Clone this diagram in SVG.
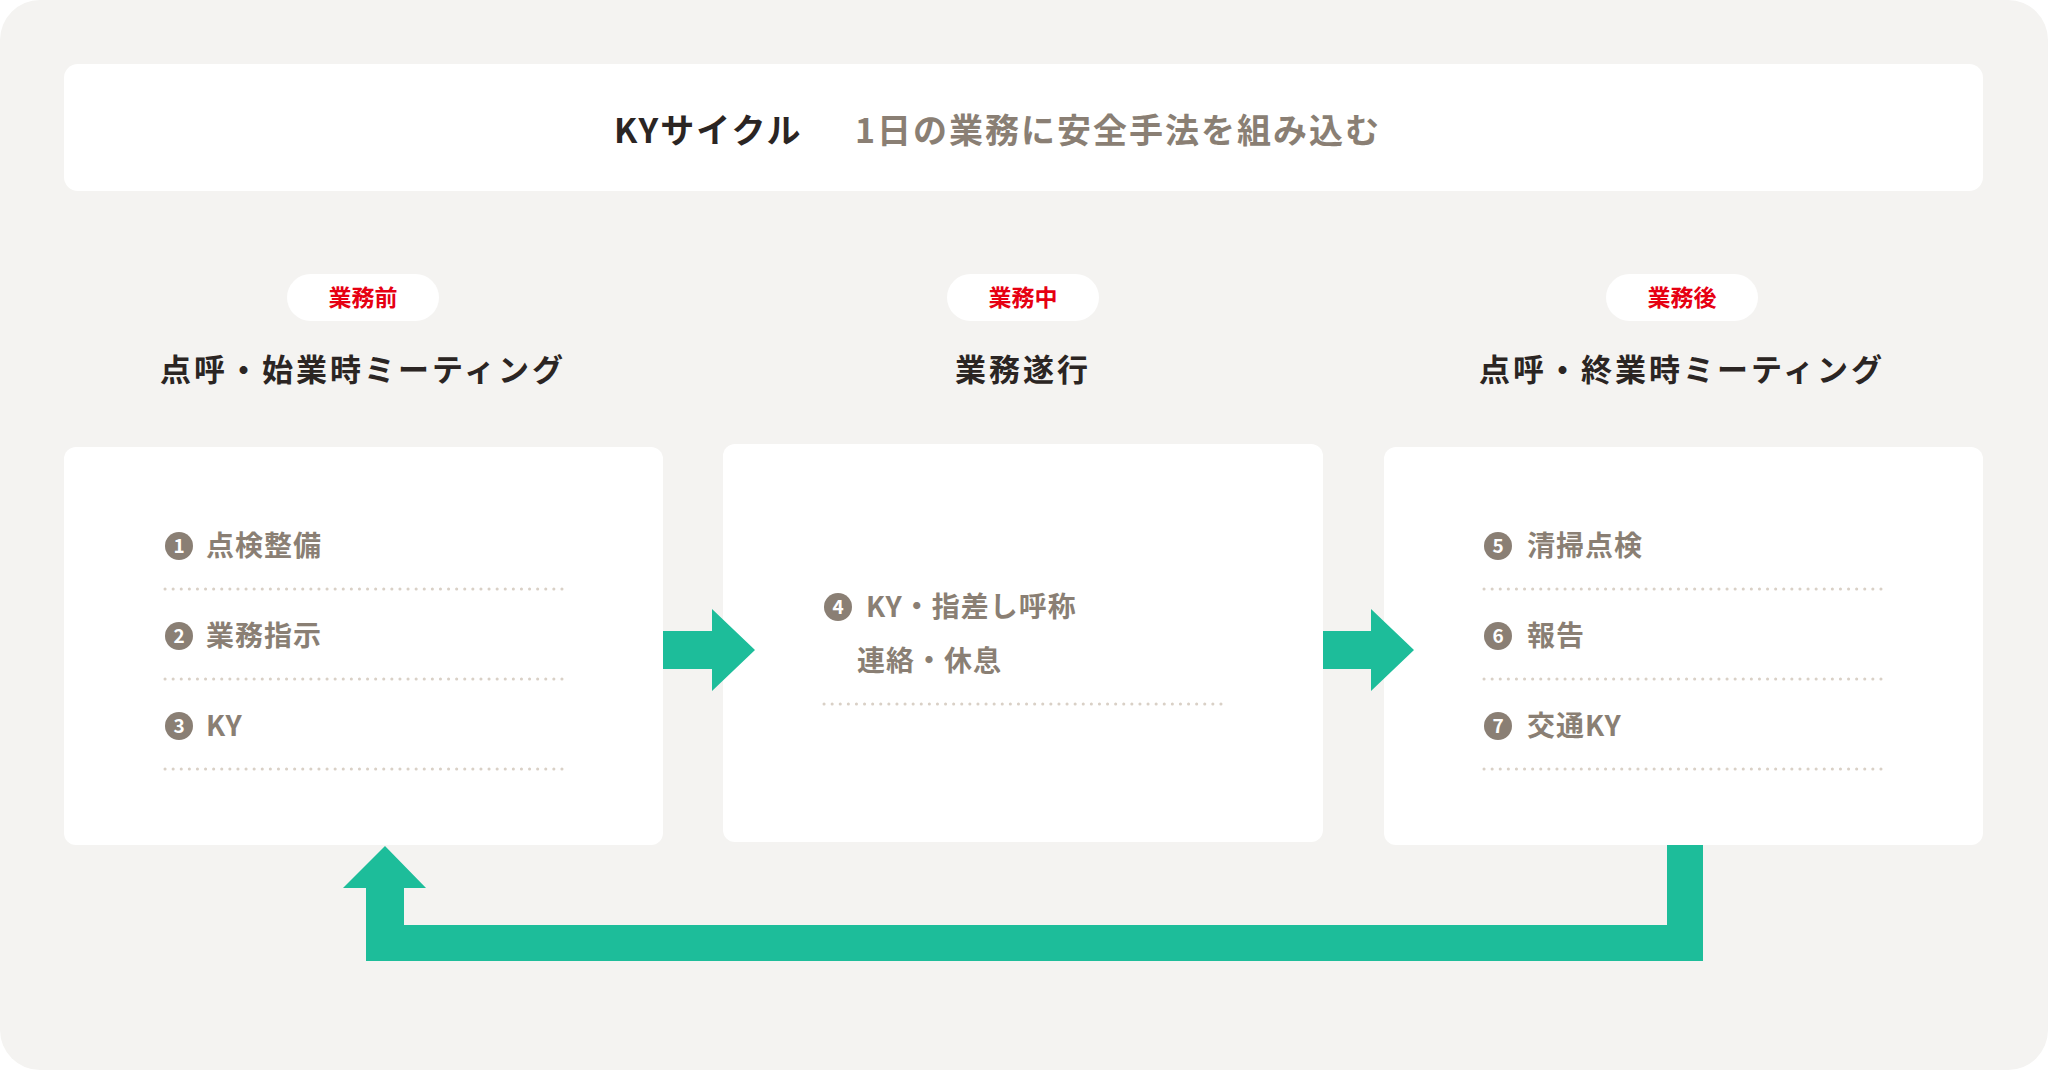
<svg xmlns="http://www.w3.org/2000/svg" width="2048" height="1070" viewBox="0 0 2048 1070">
<style>
text{font-family:"Noto Sans CJK JP","Noto Sans",sans-serif;font-weight:700}
.box{fill:#fff}
.pill{fill:#fff}
.pt{fill:#e60012;font-size:23px;text-anchor:middle}
.hd{fill:#2b2523;font-size:31px;text-anchor:middle;letter-spacing:3px}
.it{fill:#8a7f74;font-size:28px;letter-spacing:1px}
.nc{fill:#8a7f74}
.nt{fill:#fff;font-size:19px;text-anchor:middle}
.dot{stroke:#d9d0c6;stroke-width:3;stroke-dasharray:0.1 8;stroke-linecap:round}
.ar{fill:#1dbd9a}
</style>
<rect x="0" y="0" width="2048" height="1070" rx="40" fill="#f4f3f1"/>
<g id="header">
<rect x="64" y="64" width="1919" height="127" rx="14" class="box"/>
<text x="614" y="143" font-size="34" fill="#2b2523" letter-spacing="2">KYサイクル</text>
<text x="855" y="143" font-size="34" fill="#8a7f74" letter-spacing="2">1日の業務に安全手法を組み込む</text>
</g>
<g id="before">
<rect x="287" y="274" width="152" height="47" rx="23.5" class="pill"/>
<text x="363" y="306" class="pt">業務前</text>
<text x="363" y="381" class="hd">点呼・始業時ミーティング</text>
<rect x="64" y="447" width="599" height="398" rx="12" class="box"/>
<circle cx="179" cy="546" r="14" class="nc"/><text x="179" y="553" class="nt">1</text>
<text x="206" y="556" class="it">点検整備</text>
<line x1="165" y1="589" x2="564" y2="589" class="dot"/>
<circle cx="179" cy="636" r="14" class="nc"/><text x="179" y="643" class="nt">2</text>
<text x="206" y="646" class="it">業務指示</text>
<line x1="165" y1="679" x2="564" y2="679" class="dot"/>
<circle cx="179" cy="726" r="14" class="nc"/><text x="179" y="733" class="nt">3</text>
<text x="206" y="736" class="it">KY</text>
<line x1="165" y1="769" x2="564" y2="769" class="dot"/>
</g>
<g id="during">
<rect x="947" y="274" width="152" height="47" rx="23.5" class="pill"/>
<text x="1023" y="306" class="pt">業務中</text>
<text x="1023" y="381" class="hd">業務遂行</text>
<rect x="723" y="444" width="600" height="398" rx="12" class="box"/>
<circle cx="838" cy="607" r="14" class="nc"/><text x="838" y="614" class="nt">4</text>
<text x="866" y="617" class="it">KY・指差し呼称</text>
<text x="857" y="671" class="it">連絡・休息</text>
<line x1="824" y1="704" x2="1224" y2="704" class="dot"/>
</g>
<g id="after">
<rect x="1606" y="274" width="152" height="47" rx="23.5" class="pill"/>
<text x="1682" y="306" class="pt">業務後</text>
<text x="1682" y="381" class="hd">点呼・終業時ミーティング</text>
<rect x="1384" y="447" width="599" height="398" rx="12" class="box"/>
<circle cx="1498" cy="546" r="14" class="nc"/><text x="1498" y="553" class="nt">5</text>
<text x="1527" y="556" class="it">清掃点検</text>
<line x1="1484" y1="589" x2="1883" y2="589" class="dot"/>
<circle cx="1498" cy="636" r="14" class="nc"/><text x="1498" y="643" class="nt">6</text>
<text x="1527" y="646" class="it">報告</text>
<line x1="1484" y1="679" x2="1883" y2="679" class="dot"/>
<circle cx="1498" cy="726" r="14" class="nc"/><text x="1498" y="733" class="nt">7</text>
<text x="1527" y="736" class="it">交通KY</text>
<line x1="1484" y1="769" x2="1883" y2="769" class="dot"/>
</g>
<g id="connectors">
<path class="ar" d="M663 631H712V609L755 650L712 691V669H663Z"/>
<path class="ar" d="M1323 631H1371V609L1414 650L1371 691V669H1323Z"/>
<path class="ar" d="M1667 845H1703V961H366V888H343L385 846L426 888H404V925H1667Z"/>
</g>
</svg>
